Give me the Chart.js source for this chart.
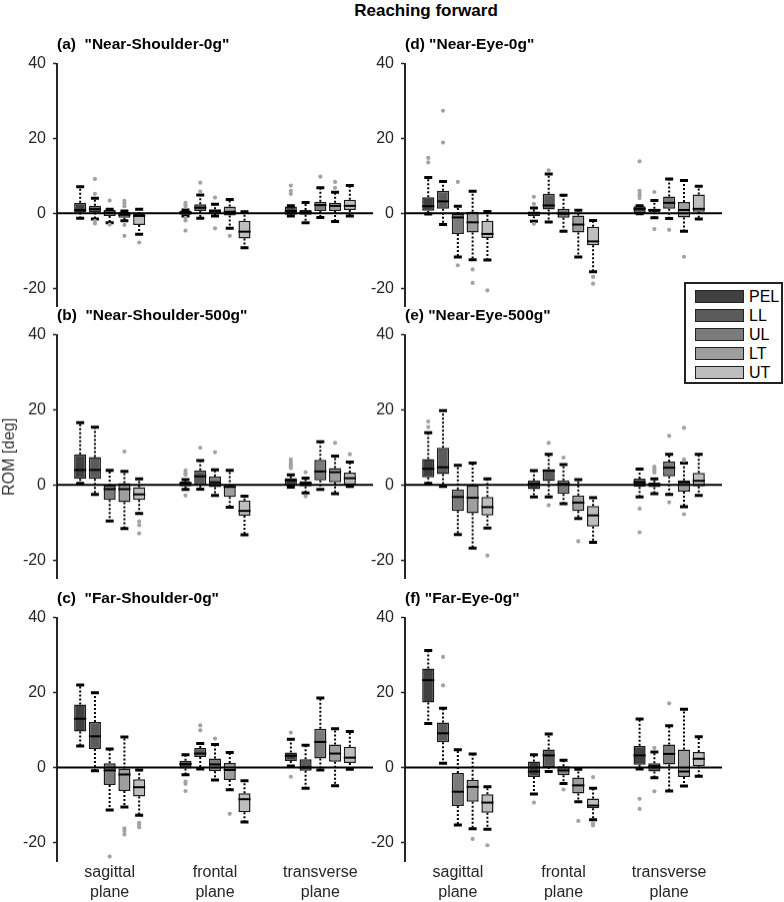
<!DOCTYPE html>
<html>
<head>
<meta charset="utf-8">
<script src="https://cdn.jsdelivr.net/npm/chart.js@4.4.1/dist/chart.umd.min.js"></script>
<style>
  html, body { margin: 0; padding: 0; background: #fff; width: 784px; height: 902px; overflow: hidden; }
  .panel { position: absolute; }
  #title { position: absolute; left: 226px; top: 1px; width: 400px; text-align: center;
           font: bold 17px Arial, "Liberation Sans", sans-serif; line-height: 20px; color: #000; }
  #legend { position: absolute; left: 684px; top: 282px; width: 99px; height: 102px; box-sizing: border-box;
            border: 2px solid #222; background: #fff; padding-top: 3px; }
  .row { height: 19px; display: flex; align-items: center; }
  .sw { margin-left: 9px; width: 49px; height: 13px; box-sizing: border-box; border: 1px solid #222; }
  .lb { margin-left: 5px; font: 16px Arial, "Liberation Sans", sans-serif; color: #000; }
</style>
</head>
<body>
<div id="title">Reaching forward</div>
<div id="legend"></div>
<script>
// categories, series, ticks
const planes = [['sagittal', 'plane'], ['frontal', 'plane'], ['transverse', 'plane']];
const segments = ['PEL', 'LL', 'UL', 'LT', 'UT'];
const segColors = ['#404040', '#5b5b5b', '#7b7b7b', '#9e9e9e', '#bebebe'];
const yTicks = [-20, 0, 20, 40];

// box stats: [whisker low, q1, median, q3, whisker high], one row per segment, one entry per plane
const statsA = [
  [[-1.3, 0.2, 0.9, 2.8, 7.1], [-0.7, -0.4, 0.2, 0.7, 0.9], [-0.7, -0.4, 0.6, 1.8, 2.0]],
  [[-1.5, 0.2, 1.1, 2.0, 4.0], [-1.3, 0.6, 1.5, 2.4, 4.9], [-2.5, -0.4, 0.3, 0.9, 2.9]],
  [[-2.5, -0.7, 0.2, 0.9, 1.1], [-0.7, -0.2, 0.6, 1.1, 2.4], [-1.1, 0.6, 2.2, 3.1, 6.8]],
  [[-2.0, -1.2, -0.4, 0.4, 0.6], [-4.0, -0.6, 0.4, 1.8, 3.7], [-2.2, 0.6, 2.0, 2.8, 5.6]],
  [[-5.6, -3.1, -0.7, -0.2, 1.1], [-9.2, -6.7, -4.9, -2.0, 0.4], [-0.7, 0.9, 2.0, 3.6, 7.4]]
];
const outA = [
  [[], [2.8, 2.3, 1.8, -1.2, -1.9, -4.6], [7.4, 6.0, 5.2]],
  [[9.2, 5.2, -2.0, -2.7], [8.2, 5.8], []],
  [[3.4, -3.0], [4.2, -4.0], [9.8]],
  [[3.3, 2.6, 1.9, -3.1, -6.0], [-6.0], [8.4, 6.8]],
  [[-7.8], [], []]
];

const statsB = [
  [[0.4, 1.6, 4.0, 8.2, 16.6], [-1.2, -0.4, 0.4, 0.9, 1.4], [-0.6, -0.2, 1.2, 1.8, 2.7]],
  [[-2.5, 1.6, 4.0, 7.4, 15.4], [-1.1, -0.1, 2.3, 3.9, 6.5], [-2.1, -0.4, 0.4, 1.0, 1.8]],
  [[-9.6, -4.0, -1.1, -0.2, 3.9], [-2.8, -0.6, 0.7, 2.3, 4.0], [-1.2, 1.2, 3.6, 6.7, 11.5]],
  [[-11.6, -4.6, -1.1, 0.5, 3.6], [-5.9, -3.2, -0.5, -0.3, 3.9], [-2.3, 0.7, 3.4, 4.5, 7.7]],
  [[-7.6, -4.0, -2.5, -0.6, 1.6], [-13.3, -8.2, -6.9, -4.1, -3.0], [-0.4, 0.1, 1.8, 3.3, 6.1]]
];
const outB = [
  [[], [3.9, 3.2, 2.7, -2.8], [6.8, 6.2, 5.6, 5.1, 4.5]],
  [[], [9.9], [3.4, -3.0]],
  [[], [8.7], []],
  [[8.9], [], [11.2]],
  [[-9.7, -10.7, -12.9], [], [8.2]]
];

const statsC = [
  [[5.7, 9.6, 13.0, 16.8, 22.0], [-2.0, -0.3, 0.9, 1.8, 3.4], [0.4, 1.7, 3.1, 4.0, 7.5]],
  [[-0.9, 4.9, 8.3, 12.1, 19.9], [-0.4, 2.8, 3.7, 5.2, 6.4], [-5.6, -0.9, 0.0, 2.2, 5.9]],
  [[-11.4, -4.7, -0.8, 1.1, 4.9], [-3.4, -1.0, 0.8, 2.4, 6.1], [-0.7, 2.4, 6.8, 10.3, 18.5]],
  [[-10.6, -6.3, -1.9, -0.3, 8.1], [-6.0, -3.4, -0.7, 1.2, 4.0], [-4.9, 1.5, 3.7, 6.1, 10.3]],
  [[-12.8, -7.8, -5.3, -3.2, -0.7], [-14.6, -12.0, -8.5, -6.9, -3.6], [-0.5, 1.2, 2.6, 5.5, 9.6]]
];
const outC = [
  [[], [-3.8, -4.4, -6.3], [9.3, -2.5]],
  [[], [11.2, 9.9], []],
  [[-23.8], [7.7], []],
  [[-16.3, -17.0, -17.9], [-12.4], []],
  [[-14.8, -15.4, -16.0], [], []]
];

const statsD = [
  [[-0.2, 0.7, 1.9, 4.3, 9.6], [-2.1, -0.8, 0.0, 0.5, 1.4], [-0.1, 0.1, 1.2, 1.9, 2.0]],
  [[-3.0, 1.2, 3.2, 6.0, 8.5], [-2.3, 1.0, 2.1, 5.2, 10.5], [-1.2, 0.3, 0.9, 1.2, 3.4]],
  [[-11.7, -5.5, -1.1, -0.2, 1.9], [-4.8, -1.2, -0.1, 1.2, 4.8], [-1.4, 1.2, 2.8, 4.5, 9.2]],
  [[-12.4, -5.1, -2.4, 0.4, 5.9], [-11.7, -5.1, -3.0, -0.6, 0.8], [-4.8, -1.1, 0.9, 3.0, 8.8]],
  [[-12.5, -6.6, -5.5, -2.0, 0.5], [-15.6, -8.5, -7.5, -3.6, -1.9], [-1.5, 0.4, 1.2, 5.0, 7.2]]
];
const outD = [
  [[14.8, 13.6], [4.4, 2.5, -2.8], [13.9, 6.0, 5.4, 4.8, 4.1]],
  [[27.4, 18.9], [11.5], [5.7, -4.2]],
  [[8.4, -13.9], [], [-4.4]],
  [[-15.0, -18.6], [], [-11.6]],
  [[-20.6], [-17.0, -18.8], []]
];

const statsE = [
  [[0.4, 2.0, 4.3, 6.9, 13.9], [-3.2, -1.1, 0.3, 1.2, 3.8], [-3.2, -0.5, 0.7, 1.7, 4.2]],
  [[-0.4, 2.9, 4.7, 9.9, 19.8], [-3.2, 1.0, 3.8, 4.2, 8.2], [-2.3, -0.6, 0.1, 0.7, 1.6]],
  [[-13.2, -6.9, -3.2, -1.2, 5.2], [-5.0, -2.4, 0.3, 1.2, 5.4], [-2.5, 2.3, 4.6, 6.2, 8.2]],
  [[-16.8, -7.5, -3.4, -0.2, 5.8], [-8.9, -6.9, -4.7, -2.8, 1.4], [-5.8, -1.8, 0.7, 1.2, 5.8]],
  [[-11.5, -8.1, -5.9, -3.2, 1.6], [-15.3, -11.1, -8.1, -5.6, -3.4], [-2.8, -0.4, 1.1, 3.2, 8.2]]
];
const outE = [
  [[16.9, 15.4], [], [-6.3, -12.6]],
  [[], [11.2, -5.4], [4.9, 4.3, 3.8, 3.3]],
  [[], [7.3], [13.1, -4.6]],
  [[], [-15.0], [15.2, 6.8, 6.5, -7.8]],
  [[-18.8], [], []]
];

const statsF = [
  [[11.7, 17.3, 23.3, 26.4, 31.2], [-7.1, -2.6, -1.1, 1.6, 3.4], [-0.4, 0.7, 3.2, 5.8, 12.9]],
  [[1.1, 6.7, 9.1, 12.0, 15.8], [-1.1, 0.1, 3.2, 4.8, 8.9], [-2.8, -1.1, 0.3, 1.1, 4.1]],
  [[-15.4, -10.3, -6.5, -1.5, 4.7], [-4.3, -2.1, -0.8, 0.3, 1.9], [-6.3, 0.8, 3.6, 6.1, 11.1]],
  [[-16.4, -9.2, -5.2, -3.3, 3.6], [-9.2, -7.0, -4.8, -2.7, -0.5], [-5.0, -2.6, -1.1, 4.8, 15.5]],
  [[-16.5, -12.1, -9.4, -7.2, -5.2], [-14.0, -10.9, -10.2, -8.3, -5.6], [-2.4, 0.3, 2.3, 4.1, 8.2]]
];
const outF = [
  [[], [-9.4], [-8.4, -11.1]],
  [[29.5, 21.9], [], [5.2, -6.4]],
  [[], [-5.9], [17.1]],
  [[-19.1], [-14.3], []],
  [[-20.8], [-2.6, -14.9, -15.5], []]
];

// panel layout
const cols = [
  { left: 0, width: 392, yw: 57, padRight: 19 },
  { left: 360, width: 424, yw: 45, padRight: 62 }
];
const rows = [
  { top: 34.6, height: 288.5, hasX: false },
  { top: 306, height: 288.5, hasX: false },
  { top: 589, height: 313, hasX: true }
];
const panels = [
  { col: 0, row: 0, name: '(a)  "Near-Shoulder-0g"', stats: statsA, out: outA },
  { col: 0, row: 1, name: '(b)  "Near-Shoulder-500g"', stats: statsB, out: outB, yTitle: 'ROM [deg]' },
  { col: 0, row: 2, name: '(c)  "Far-Shoulder-0g"', stats: statsC, out: outC },
  { col: 1, row: 0, name: '(d) "Near-Eye-0g"', stats: statsD, out: outD },
  { col: 1, row: 1, name: '(e) "Near-Eye-500g"', stats: statsE, out: outE },
  { col: 1, row: 2, name: '(f) "Far-Eye-0g"', stats: statsF, out: outF }
];

Chart.defaults.font.family = 'Arial, "Liberation Sans", Helvetica, sans-serif';
Chart.defaults.color = '#262626';

// whiskers, caps, medians, outliers and the zero line
const boxPlot = {
  id: 'boxPlot',
  beforeDatasetsDraw(chart) {
    const ctx = chart.ctx, y = chart.scales.y;
    ctx.save();
    ctx.strokeStyle = '#000';
    ctx.lineWidth = 2;
    ctx.setLineDash([2, 2]);
    chart.data.datasets.forEach((ds, i) => {
      chart.getDatasetMeta(i).data.forEach((bar, j) => {
        const s = ds.stats[j];
        ctx.beginPath();
        ctx.moveTo(bar.x, y.getPixelForValue(s[3]));
        ctx.lineTo(bar.x, y.getPixelForValue(s[4]));
        ctx.moveTo(bar.x, y.getPixelForValue(s[1]));
        ctx.lineTo(bar.x, y.getPixelForValue(s[0]));
        ctx.stroke();
      });
    });
    ctx.restore();
  },
  afterDatasetsDraw(chart) {
    const ctx = chart.ctx, y = chart.scales.y, area = chart.chartArea;
    ctx.save();
    // zero line
    ctx.strokeStyle = '#000';
    ctx.lineWidth = 2;
    ctx.beginPath();
    ctx.moveTo(area.left, y.getPixelForValue(0));
    ctx.lineTo(area.right, y.getPixelForValue(0));
    ctx.stroke();
    chart.data.datasets.forEach((ds, i) => {
      chart.getDatasetMeta(i).data.forEach((bar, j) => {
        const s = ds.stats[j];
        const half = bar.width / 2;
        // median
        ctx.lineWidth = 2;
        ctx.strokeStyle = '#000';
        ctx.beginPath();
        ctx.moveTo(bar.x - half, y.getPixelForValue(s[2]));
        ctx.lineTo(bar.x + half, y.getPixelForValue(s[2]));
        ctx.stroke();
        // caps
        ctx.lineWidth = 3;
        ctx.beginPath();
        ctx.moveTo(bar.x - 4, y.getPixelForValue(s[4]));
        ctx.lineTo(bar.x + 4, y.getPixelForValue(s[4]));
        ctx.moveTo(bar.x - 4, y.getPixelForValue(s[0]));
        ctx.lineTo(bar.x + 4, y.getPixelForValue(s[0]));
        ctx.stroke();
        // outliers
        ctx.fillStyle = '#a3a3a3';
        ds.outliers[j].forEach(v => {
          ctx.beginPath();
          ctx.arc(bar.x, y.getPixelForValue(v), 2.1, 0, Math.PI * 2);
          ctx.fill();
        });
      });
    });
    ctx.restore();
  }
};

panels.forEach(p => {
  const c = cols[p.col], r = rows[p.row];
  const wrap = document.createElement('div');
  wrap.className = 'panel';
  wrap.style.left = c.left + 'px';
  wrap.style.top = r.top + 'px';
  wrap.style.width = c.width + 'px';
  wrap.style.height = r.height + 'px';
  const canvas = document.createElement('canvas');
  wrap.appendChild(canvas);
  document.body.appendChild(wrap);

  const datasets = segments.map((seg, s) => ({
    label: seg,
    data: p.stats[s].map(b => [b[1], b[3]]),
    stats: p.stats[s],
    outliers: p.out[s],
    backgroundColor: segColors[s],
    borderColor: '#1a1a1a',
    borderWidth: 1.5,
    borderSkipped: false,
    categoryPercentage: 0.7,
    barPercentage: 0.82
  }));

  const xScale = {
    display: r.hasX,
    grid: { display: false, drawTicks: false },
    border: { display: false },
    ticks: { font: { size: 16, lineHeight: 1.25 }, padding: 2, color: '#262626', maxRotation: 0 }
  };
  if (r.hasX) xScale.afterFit = s => { s.height = 41; };

  new Chart(canvas, {
    type: 'bar',
    data: { labels: planes, datasets: datasets },
    plugins: [boxPlot],
    options: {
      responsive: true,
      maintainAspectRatio: false,
      animation: false,
      layout: { padding: { top: 0, right: c.padRight, bottom: r.hasX ? 0 : 10, left: 0 } },
      plugins: {
        legend: { display: false },
        tooltip: { enabled: false },
        title: {
          display: true,
          text: p.name,
          align: 'start',
          fullSize: false,
          color: '#000',
          font: { size: 15.5, weight: 'bold' },
          padding: { top: 0, bottom: 10 }
        }
      },
      scales: {
        x: xScale,
        y: {
          min: -25,
          max: 40,
          afterBuildTicks: s => { s.ticks = yTicks.map(v => ({ value: v })); },
          afterFit: s => { s.width = c.yw; },
          grid: { drawOnChartArea: false, drawTicks: true, tickLength: 4, tickColor: '#262626', tickWidth: 1.5 },
          border: { display: true, color: '#262626', width: 2 },
          ticks: { font: { size: 16 }, padding: 7, color: '#262626' },
          title: {
            display: !!p.yTitle,
            text: p.yTitle || '',
            color: '#333',
            font: { size: 16 },
            padding: 0
          }
        }
      }
    }
  });
});

// legend
const legend = document.getElementById('legend');
segments.forEach((seg, s) => {
  const row = document.createElement('div');
  row.className = 'row';
  row.innerHTML = '<span class="sw" style="background:' + segColors[s] + '"></span><span class="lb">' + seg + '</span>';
  legend.appendChild(row);
});
</script>
</body>
</html>
